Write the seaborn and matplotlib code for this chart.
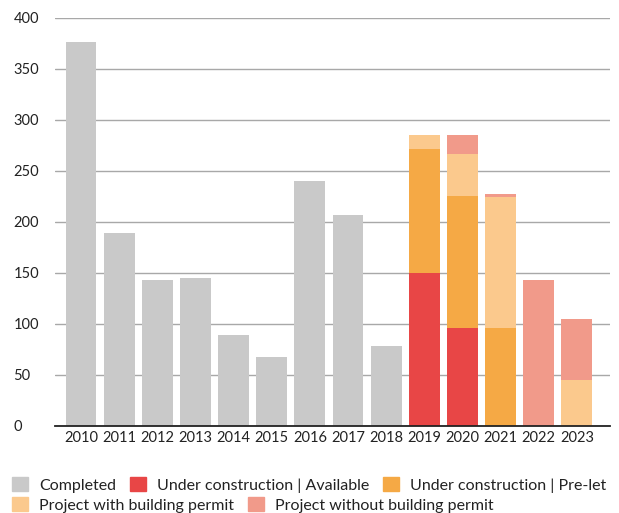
import numpy as np
import pandas as pd
import matplotlib
matplotlib.use("Agg")
import matplotlib.pyplot as plt
import matplotlib.patches as mpatches
import seaborn as sns

# values
years = [str(y) for y in range(2010, 2024)]
completed = [376, 189, 143, 145, 89, 67, 240, 207, 78, 0, 0, 0, 0, 0]
uc_available = [0, 0, 0, 0, 0, 0, 0, 0, 0, 150, 96, 0, 0, 0]
uc_prelet = [0, 0, 0, 0, 0, 0, 0, 0, 0, 121, 129, 96, 0, 0]
with_permit = [0, 0, 0, 0, 0, 0, 0, 0, 0, 14, 42, 128, 0, 45]
without_permit = [0, 0, 0, 0, 0, 0, 0, 0, 0, 0, 18, 3, 143, 60]

labels = ["Completed", "Under construction | Available", "Under construction | Pre-let",
          "Project with building permit", "Project without building permit"]
colors = ["#c9c9c9", "#e84646", "#f5a945", "#fbc98d", "#f19a8a"]

sns.set_style("white")
plt.rcParams['font.family'] = ['Lato', 'DejaVu Sans']

fig = plt.figure(figsize=(6.19, 5.13), dpi=100)
ax = fig.add_axes([0.089, 0.170, 0.896, 0.795])

df = pd.DataFrame({"year": years, "completed": completed, "uc_available": uc_available,
                   "uc_prelet": uc_prelet, "with_permit": with_permit,
                   "without_permit": without_permit})

# stacked bars: draw cumulative totals from the top layer down
stack_cols = ["uc_available", "uc_prelet", "with_permit", "without_permit"]
cum = df[stack_cols].cumsum(axis=1)
for col, c in zip(stack_cols[::-1], colors[1:][::-1]):
    sns.barplot(x=df["year"], y=cum[col], color=c, width=0.81, ax=ax,
                saturation=1, edgecolor="none")
sns.barplot(x=df["year"], y=df["completed"], color=colors[0], width=0.81, ax=ax,
            saturation=1, edgecolor="none")

ax.set_ylim(0, 400)
ax.set_xlim(-0.68, 13.86)
ax.set_yticks(range(0, 401, 50))
ax.yaxis.grid(True, color="#a8a8a8", linewidth=1)
ax.set_axisbelow(True)
ax.set_xlabel("")
ax.set_ylabel("")
for s in ["top", "right", "left"]:
    ax.spines[s].set_visible(False)
ax.spines["bottom"].set_color("#222222")
ax.spines["bottom"].set_linewidth(1.3)
ax.tick_params(axis="both", length=0, labelsize=10.5, colors="#222222")
ax.tick_params(axis="y", pad=30)
for t in ax.get_yticklabels():
    t.set_horizontalalignment("left")

handles = [mpatches.Patch(color=c, label=l) for c, l in zip(colors, labels)]
leg_kw = dict(frameon=False, fontsize=11.5, handlelength=1.0, handleheight=1.0,
              handletextpad=0.69, columnspacing=0.87, borderaxespad=0, borderpad=0,
              labelcolor="#222222")
fig.legend(handles=handles[:3], ncol=3, loc="upper left",
           bbox_to_anchor=(0.019, 0.070), **leg_kw)
fig.legend(handles=handles[3:], ncol=2, loc="upper left",
           bbox_to_anchor=(0.019, 0.031), **leg_kw)

plt.savefig("out.png", dpi=100)
